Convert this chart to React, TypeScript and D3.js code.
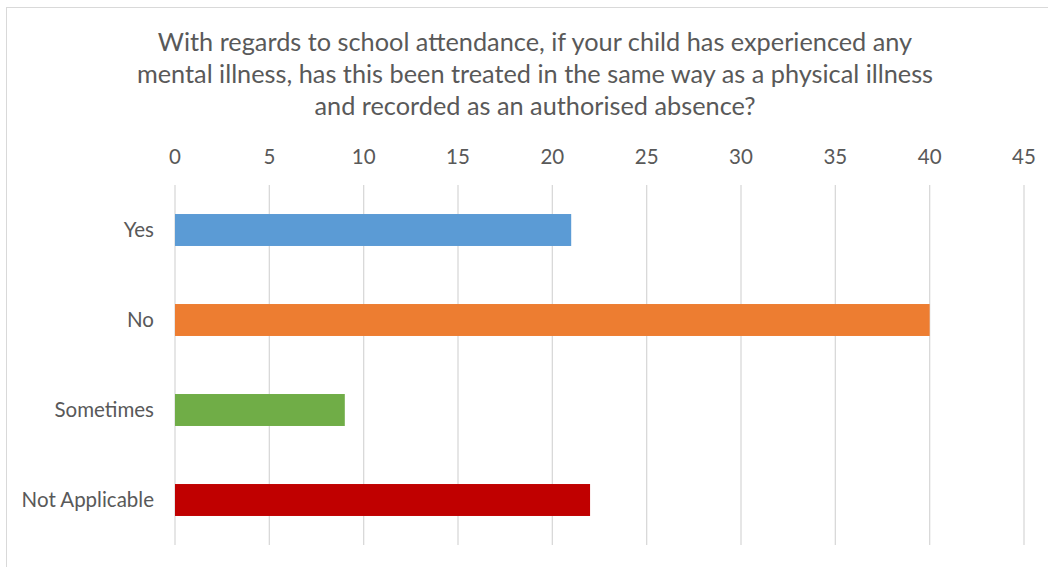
import React from "react";
import * as d3 from "d3";

const categories = ["Yes", "No", "Sometimes", "Not Applicable"];
const values = [21, 40, 9, 22];
const colors = ["#5b9bd5", "#ed7d31", "#70ad47", "#c00000"];
const xTicks = [0, 5, 10, 15, 20, 25, 30, 35, 40, 45];
const titleLines = [
  "With regards to school attendance, if your child has experienced any",
  "mental illness, has this been treated in the same way as a physical illness",
  "and recorded as an authorised absence?",
];

const W = 1048;
const H = 567;
const font = "Lato, Carlito, Calibri, sans-serif";

export default function App() {
  const x = d3.scaleLinear().domain([0, 45]).range([175, 1024]);
  const y = d3.scaleBand<string>().domain(categories).range([185, 545]).paddingInner(0.645).paddingOuter(0.3225);

  return (
    <svg width={W} height={H} style={{ position: "absolute", left: 0, top: 0, background: "#fff" }}>
      <rect x={6.5} y={7.5} width={W + 10} height={H + 10} fill="#fff" stroke="#d9d9d9" strokeWidth={1} />
      {titleLines.map((t, i) => (
        <text key={i} x={535} y={51 + i * 32} textAnchor="middle" fontFamily={font} fontSize={25.3} fill="#595959">
          {t}
        </text>
      ))}
      {xTicks.map((t) => (
        <g key={t}>
          <line x1={x(t)} x2={x(t)} y1={185} y2={545} stroke="#d9d9d9" strokeWidth={1.3} />
          <text x={x(t)} y={164} textAnchor="middle" fontFamily={font} fontSize={20.5} fill="#595959">
            {t}
          </text>
        </g>
      ))}
      {categories.map((c, i) => (
        <g key={c}>
          <rect x={x(0)} y={y(c)} width={x(values[i]) - x(0)} height={y.bandwidth()} fill={colors[i]} />
          <text x={154} y={(y(c) as number) + y.bandwidth() / 2 + 6.5} textAnchor="end" fontFamily={font} fontSize={20.5} fill="#595959">
            {c}
          </text>
        </g>
      ))}
    </svg>
  );
}
